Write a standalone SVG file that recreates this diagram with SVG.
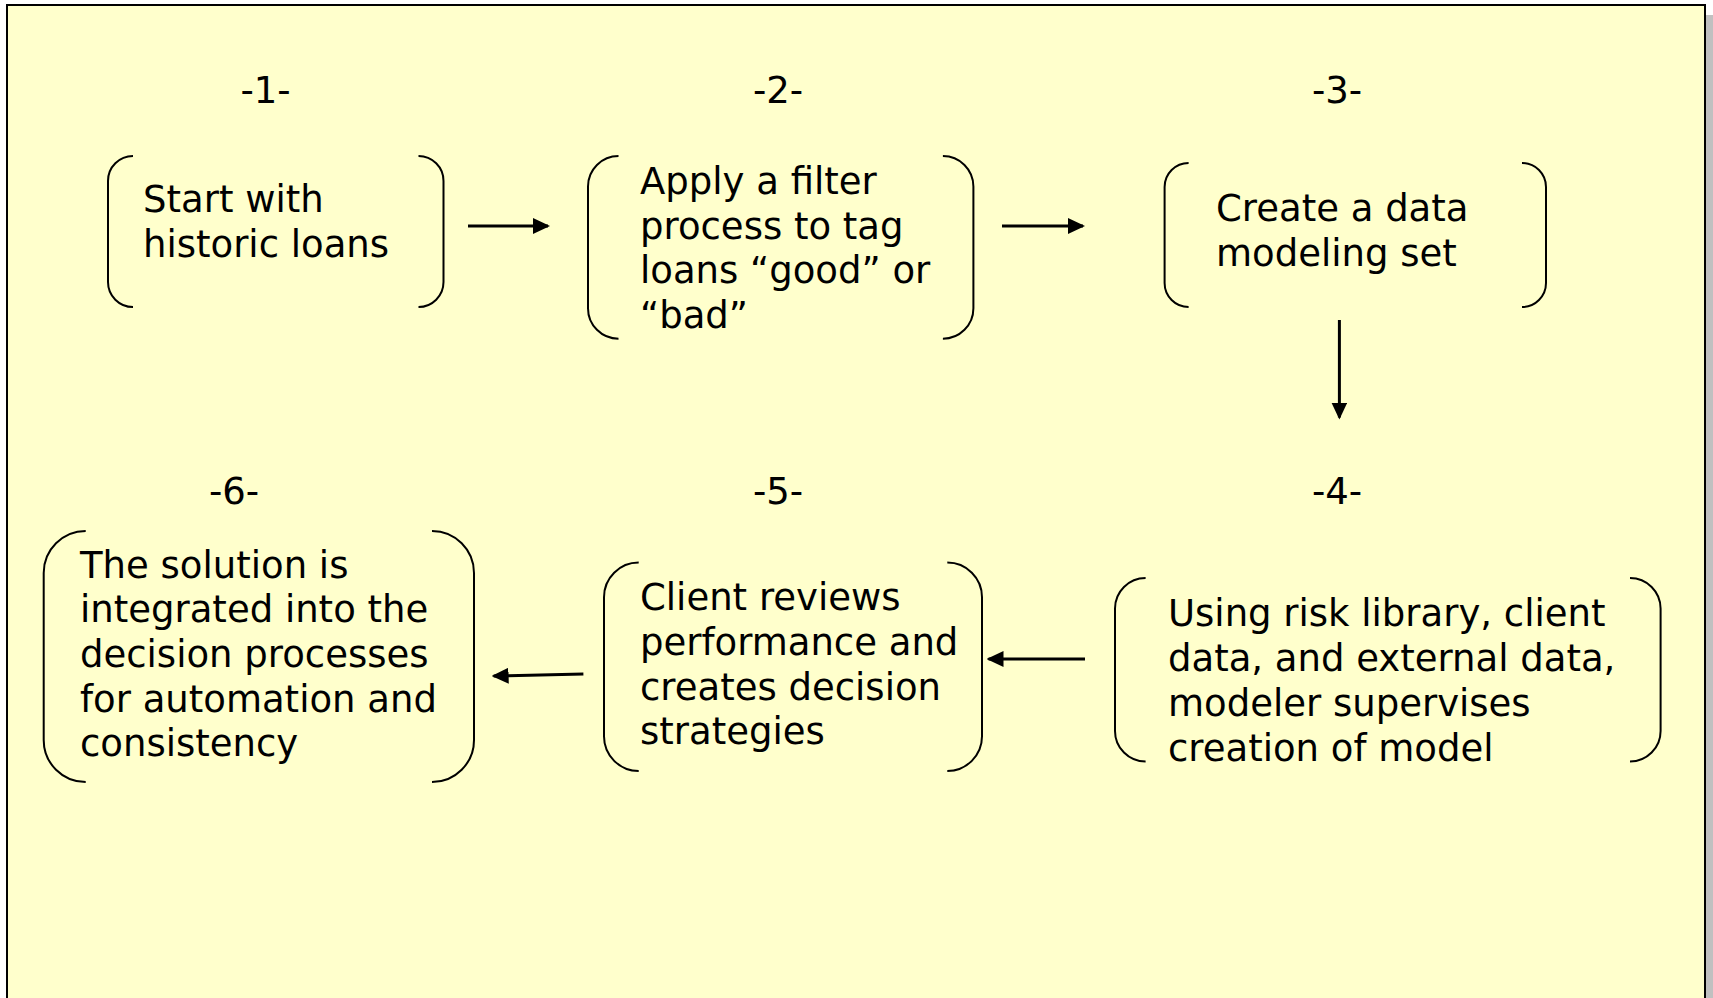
<svg xmlns="http://www.w3.org/2000/svg" width="1713" height="998" viewBox="0 0 1713 998">
<defs>
<style>
.t{font-family:"DejaVu Sans","Verdana",sans-serif;font-size:37px;fill:#000}
.n{font-family:"DejaVu Sans","Verdana",sans-serif;font-size:37px;fill:#000;text-anchor:middle}
.b{fill:none;stroke:#000;stroke-width:2}
.c{fill:none;stroke:#000;stroke-width:3}
</style>
<marker id="ah" viewBox="0 0 17 16" markerWidth="17" markerHeight="16" refX="15" refY="8" orient="auto" markerUnits="userSpaceOnUse">
<path d="M0,0 L17,8 L0,16 z" fill="#000"/>
</marker>
</defs>
<rect x="0" y="0" width="1713" height="998" fill="#FFFFFF"/>
<rect x="1706" y="15" width="7" height="990" fill="#C0C0C0"/>
<rect x="7" y="5" width="1698" height="1000" fill="#FFFFCC" stroke="#000" stroke-width="2"/>

<g id="labels">
<text class="n" x="265.5" y="103">-1-</text>
<text class="n" x="778" y="103">-2-</text>
<text class="n" x="1337" y="103">-3-</text>
<text class="n" x="234" y="504">-6-</text>
<text class="n" x="778" y="504">-5-</text>
<text class="n" x="1337" y="504">-4-</text>
</g>

<g id="node1">
<path class="b" d="M133,156 A25,25 0 0 0 108,181 L108,282 A25,25 0 0 0 133,307"/>
<path class="b" d="M418.5,156 A25,25 0 0 1 443.5,181 L443.5,282 A25,25 0 0 1 418.5,307"/>
<text class="t" x="143" y="212.4">Start with</text>
<text class="t" x="143" y="257.2">historic loans</text>
</g>

<g id="node2">
<path class="b" d="M618.5,156 A30.5,30.5 0 0 0 588,186.5 L588,308.2 A30.5,30.5 0 0 0 618.5,338.7"/>
<path class="b" d="M942.9,156 A30.5,30.5 0 0 1 973.4,186.5 L973.4,308.2 A30.5,30.5 0 0 1 942.9,338.7"/>
<text class="t" x="640" y="193.8">Apply a filter</text>
<text class="t" x="640" y="238.6">process to tag</text>
<text class="t" x="640" y="283.4">loans “good” or</text>
<text class="t" x="640" y="328.2">“bad”</text>
</g>

<g id="node3">
<path class="b" d="M1188.6,163 A24,24 0 0 0 1164.6,187 L1164.6,283 A24,24 0 0 0 1188.6,307"/>
<path class="b" d="M1522,163 A24,24 0 0 1 1546,187 L1546,283 A24,24 0 0 1 1522,307"/>
<text class="t" x="1216" y="221.1">Create a data</text>
<text class="t" x="1216" y="265.9">modeling set</text>
</g>

<g id="node4">
<path class="b" d="M1145.6,578 A30.6,30.6 0 0 0 1115,608.6 L1115,730.9 A30.6,30.6 0 0 0 1145.6,761.5"/>
<path class="b" d="M1630,578 A30.6,30.6 0 0 1 1660.6,608.6 L1660.6,730.9 A30.6,30.6 0 0 1 1630,761.5"/>
<text class="t" x="1168" y="626.4">Using risk library, client</text>
<text class="t" x="1168" y="671.2">data, and external data,</text>
<text class="t" x="1168" y="716">modeler supervises</text>
<text class="t" x="1168" y="760.8">creation of model</text>
</g>

<g id="node5">
<path class="b" d="M638.7,562.6 A34.7,34.7 0 0 0 604,597.3 L604,736.3 A34.7,34.7 0 0 0 638.7,771"/>
<path class="b" d="M947.3,562.6 A34.7,34.7 0 0 1 982,597.3 L982,736.3 A34.7,34.7 0 0 1 947.3,771"/>
<text class="t" x="640" y="610">Client reviews</text>
<text class="t" x="640" y="654.8">performance and</text>
<text class="t" x="640" y="699.6">creates decision</text>
<text class="t" x="640" y="744.4">strategies</text>
</g>

<g id="node6">
<path class="b" d="M85.7,531 A42,42 0 0 0 43.7,573 L43.7,740 A42,42 0 0 0 85.7,782"/>
<path class="b" d="M432,531 A42,42 0 0 1 474,573 L474,740 A42,42 0 0 1 432,782"/>
<text class="t" x="80" y="578.4">The solution is</text>
<text class="t" x="80" y="622.1">integrated into the</text>
<text class="t" x="80" y="666.9">decision processes</text>
<text class="t" x="80" y="711.7">for automation and</text>
<text class="t" x="80" y="756.4">consistency</text>
</g>

<g id="connectors">
<line class="c" x1="468" y1="226" x2="548" y2="226" marker-end="url(#ah)"/>
<line class="c" x1="1002" y1="226" x2="1083" y2="226" marker-end="url(#ah)"/>
<line class="c" x1="1339.4" y1="320" x2="1339.4" y2="417.5" marker-end="url(#ah)"/>
<line class="c" x1="1085" y1="659" x2="988.5" y2="659" marker-end="url(#ah)"/>
<line class="c" x1="583.4" y1="674" x2="493.6" y2="676" marker-end="url(#ah)"/>
</g>
</svg>
